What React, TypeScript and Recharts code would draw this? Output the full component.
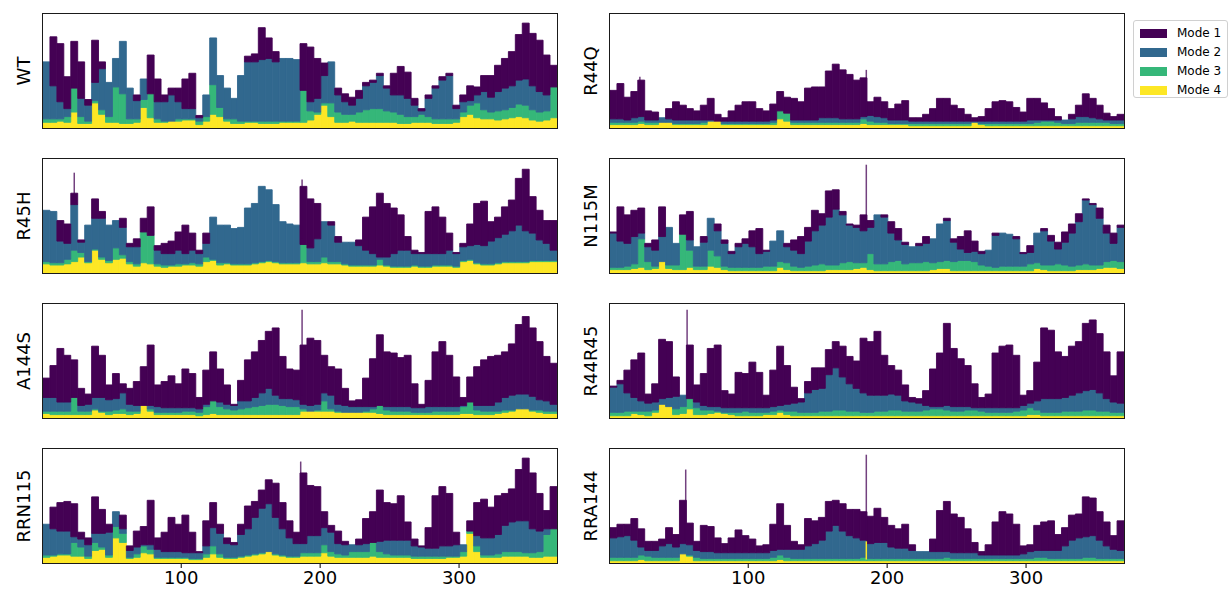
import { BarChart, Bar, XAxis, YAxis, ReferenceLine } from "recharts";

// residue bins (centre of each 5-residue block)
const residues = [
  3, 8, 13, 18, 23, 28, 33, 38, 43, 48, 53, 58, 63, 68, 73, 78, 83, 88, 93, 98,
  103, 108, 113, 118, 123, 128, 133, 138, 143, 148, 153, 158, 163, 168, 173, 178, 183, 188, 193, 198,
  203, 208, 213, 218, 223, 228, 233, 238, 243, 248, 253, 258, 263, 268, 273, 278, 283, 288, 293, 298,
  303, 308, 313, 318, 323, 328, 333, 338, 343, 348, 353, 358, 363, 368,
];
const tickValues = [100, 200, 300];
const modeNames = ["Mode 1", "Mode 2", "Mode 3", "Mode 4"];
const modeColors = ["#440154", "#31688e", "#35b779", "#fde725"];

// visible top of each mode, % of panel height
const wtMode1 = [58,80,74,45,76,58,25,77,58,40,61,76,35,29,43,64,43,29,35,35,43,48,11,29,79,46,35,26,46,63,65,88,79,67,61,61,60,74,71,61,57,58,35,30,27,33,40,42,48,37,48,54,49,26,17,29,37,45,48,20,29,37,36,46,46,55,61,67,82,92,83,77,64,55];
const wtMode2 = [58,37,23,17,32,26,20,40,52,40,61,76,35,24,43,29,23,23,29,23,17,17,9,29,79,46,35,26,46,58,58,60,61,58,61,61,60,29,23,26,46,58,29,23,20,26,37,40,46,35,29,29,26,20,15,26,35,42,46,17,23,24,29,32,27,32,35,37,42,43,37,32,29,36];
const wtMode3 = [8,8,8,10,35,10,6,24,16,10,36,30,8,8,25,30,8,6,6,8,8,8,6,10,38,18,8,8,6,6,6,6,6,6,6,6,6,33,15,14,22,22,14,12,12,14,16,17,17,15,14,12,10,10,12,10,8,8,8,8,14,20,22,16,14,15,16,18,21,20,16,14,15,36];
const wtMode4 = [5,5,6,5,14,4,4,22,12,5,5,4,4,5,18,9,5,5,6,6,7,7,3,6,12,10,6,4,4,5,5,4,4,4,5,5,5,5,7,12,20,10,5,5,6,5,5,5,5,5,5,4,4,5,5,5,4,4,4,5,10,12,9,8,8,7,8,9,10,9,7,6,7,9];

const r44qMode1 = [33,39,27,32,42,15,14,9,17,23,20,17,15,20,26,12,9,15,20,23,23,17,15,21,32,27,26,23,35,36,36,50,56,51,47,42,44,23,27,23,17,21,24,9,9,12,17,26,26,20,17,12,9,10,17,23,24,23,18,14,26,26,22,17,10,7,12,20,30,26,20,13,10,12];
const r44qMode2 = [8,8,7,9,10,7,7,9,8,7,7,7,7,7,7,6,6,6,6,6,6,6,6,7,15,13,7,7,7,7,9,9,9,8,8,8,10,11,10,9,7,7,7,6,6,6,6,6,6,6,6,6,6,6,6,6,6,6,6,6,7,7,7,7,7,7,8,10,10,9,8,7,7,7];
const r44qMode3 = [5,5,5,5,6,5,5,5,5,4,4,4,4,5,5,5,4,4,4,4,4,4,4,5,15,13,5,5,5,5,5,5,5,5,5,5,8,6,5,5,4,4,4,4,4,4,4,4,4,4,4,4,4,4,4,4,4,4,4,4,4,5,6,6,5,4,4,5,5,5,5,5,4,4];
const r44qMode4 = [3,3,3,3,4,3,3,5,5,3,3,3,3,3,6,6,3,3,3,3,3,3,3,3,8,6,3,3,3,3,3,3,3,3,3,3,4,3,3,3,3,3,3,2,2,2,2,2,2,2,2,2,5,3,2,2,2,2,2,2,2,2,2,2,2,2,2,2,2,2,2,2,2,2];

const r45hMode1 = [55,54,46,43,70,29,35,65,54,42,46,48,26,30,48,58,24,26,28,36,42,35,20,35,49,42,42,39,40,57,61,76,73,60,45,43,42,76,65,61,45,45,32,21,27,29,49,58,70,61,57,51,32,20,18,54,58,49,35,18,26,43,61,63,45,49,58,64,83,91,67,55,46,46];
const r45hMode2 = [55,54,28,26,60,27,42,48,48,42,46,40,23,23,31,26,20,17,17,20,17,20,17,26,49,42,42,39,40,57,61,76,73,60,45,43,42,20,22,30,45,42,27,27,27,24,20,17,14,14,17,20,20,17,17,17,17,17,20,17,23,24,25,24,28,31,34,37,42,37,35,29,26,20];
const r45hMode3 = [10,9,9,12,20,18,10,21,14,11,22,16,10,8,36,33,8,7,7,8,8,9,8,14,12,9,9,8,8,8,9,10,11,10,9,9,9,25,10,10,14,10,10,8,7,7,7,7,12,7,6,6,6,7,6,6,7,7,7,6,11,12,9,8,8,9,10,10,10,10,11,11,11,11];
const r45hMode4 = [8,7,7,8,10,14,9,20,12,9,12,13,8,6,9,8,6,5,6,6,7,7,6,10,11,7,8,7,7,7,8,9,10,9,8,8,8,9,8,8,9,8,8,7,6,6,6,6,7,6,5,5,5,6,5,5,6,6,6,5,10,11,8,7,7,8,9,9,9,9,10,10,10,10];

const n115mMode1 = [36,58,51,55,57,26,29,58,40,24,51,54,23,32,48,43,29,19,26,30,37,39,20,26,37,26,29,32,40,55,52,72,73,54,43,42,51,46,49,51,45,39,27,23,26,32,30,43,48,30,32,37,28,19,20,35,35,34,32,18,24,35,39,33,27,36,43,52,65,61,57,42,35,42];
const n115mMode2 = [35,28,26,32,35,23,20,32,40,26,29,29,23,27,48,37,26,17,23,26,23,17,19,28,37,23,20,17,28,37,42,49,56,51,42,40,37,40,51,49,35,29,25,23,24,26,30,43,46,27,21,18,19,17,20,33,35,34,30,17,18,35,37,28,21,27,35,45,64,60,48,35,26,40];
const n115mMode3 = [5,5,6,8,30,10,6,8,7,7,34,20,6,6,20,15,6,5,5,5,5,5,6,6,10,9,6,5,6,7,8,7,7,9,10,9,9,17,8,8,10,11,8,9,9,10,9,10,11,10,11,11,10,7,6,5,6,6,6,6,8,9,7,7,8,7,6,7,8,7,7,10,11,10];
const n115mMode4 = [3,3,3,4,5,3,4,10,4,3,3,5,3,3,6,5,3,2,2,2,2,2,2,2,5,3,2,2,2,2,2,3,3,3,3,4,5,3,2,2,2,2,2,2,2,2,3,4,4,2,2,2,2,2,2,2,2,2,2,2,2,4,3,2,2,2,2,3,3,3,4,5,5,4];

const a144sMode1 = [35,46,61,55,51,26,21,63,55,29,39,30,26,32,45,64,29,32,37,30,43,39,18,42,58,43,29,12,33,51,58,68,76,79,54,43,42,64,70,68,55,45,43,26,15,16,35,52,73,58,57,53,55,30,12,33,58,67,55,36,18,36,45,51,54,55,58,65,82,89,79,67,54,48];
const a144sMode2 = [18,18,14,14,12,11,12,18,18,16,17,22,12,11,11,11,10,9,9,9,9,9,8,12,14,14,12,11,15,15,18,22,26,20,17,17,16,12,11,12,22,20,12,11,10,10,10,10,10,10,10,10,10,9,9,10,10,10,10,10,11,11,11,11,11,14,18,20,21,21,19,16,15,12];
const a144sMode3 = [6,6,6,6,18,6,6,8,6,6,7,8,6,6,10,8,5,5,5,5,6,6,5,10,15,10,8,7,8,9,10,11,12,12,11,10,10,8,6,7,15,8,6,5,5,5,6,8,11,7,6,6,6,5,5,5,6,6,6,6,10,14,7,6,6,6,7,7,8,8,7,7,6,6];
const a144sMode4 = [4,3,3,3,3,3,3,7,5,3,4,4,3,4,11,6,3,3,3,3,3,3,2,3,4,3,3,3,3,3,3,3,3,3,3,3,3,6,6,6,6,6,5,5,5,5,5,5,4,3,3,3,3,3,3,3,3,3,3,3,4,4,3,3,3,4,5,6,8,8,6,5,4,4];

const r44r45Mode1 = [28,33,42,51,57,21,30,69,67,36,20,64,29,39,61,64,24,21,40,39,49,40,20,42,63,46,27,17,32,44,44,60,67,63,54,50,70,67,76,55,46,42,29,18,17,24,43,57,83,61,52,46,30,18,21,57,63,64,55,20,24,49,79,77,58,54,63,67,83,86,74,58,37,58];
const r44r45Mode2 = [27,30,22,18,15,13,14,17,18,19,20,16,14,11,10,10,9,9,9,9,9,9,9,10,11,12,13,14,22,25,26,38,44,36,30,26,22,20,20,20,21,20,15,14,13,11,10,10,11,10,10,10,9,9,9,9,9,9,9,11,13,15,17,17,17,18,20,22,24,25,22,17,14,13];
const r44r45Mode3 = [5,5,6,6,6,6,7,8,8,8,10,17,9,7,7,6,5,5,5,6,5,5,5,6,7,6,6,5,5,5,6,6,7,7,6,6,5,5,6,6,7,7,6,6,6,7,8,8,7,6,6,7,7,6,5,5,5,5,6,7,9,7,5,5,5,6,6,6,7,7,6,6,5,5];
const r44r45Mode4 = [2,2,2,4,3,2,5,12,10,3,4,8,3,3,4,5,4,3,2,2,2,2,3,3,5,3,2,2,2,2,2,2,2,2,2,2,2,2,2,2,2,2,2,2,2,2,2,2,2,2,2,2,2,2,2,2,2,2,2,2,3,3,2,2,2,2,2,2,2,2,2,2,2,2];

const rrn115Mode1 = [34,49,53,54,52,27,22,58,47,34,45,42,15,28,32,55,22,27,40,34,42,27,10,37,53,34,22,18,34,50,54,64,73,70,53,37,27,79,68,67,45,33,28,19,16,21,39,45,64,53,52,59,36,21,15,31,59,67,61,27,15,37,53,56,49,59,61,65,82,92,79,61,46,67];
const rrn115Mode2 = [34,30,28,28,23,21,16,26,26,27,45,30,11,14,16,16,12,10,10,10,9,9,9,15,31,26,17,16,25,30,40,48,52,40,30,22,17,17,24,24,31,27,17,16,16,16,17,18,19,20,20,20,20,15,14,13,13,15,15,16,16,28,24,22,22,25,33,36,37,37,30,28,30,30];
const rrn115Mode3 = [7,7,8,8,18,14,6,18,14,7,32,26,5,8,15,12,5,5,5,5,5,4,4,8,15,8,5,5,6,7,8,9,10,8,7,6,6,9,9,9,16,10,8,7,10,10,10,18,10,8,7,7,7,6,6,6,6,6,6,6,10,28,15,7,7,8,10,10,10,9,9,10,25,30];
const rrn115Mode4 = [5,6,7,7,6,6,4,11,12,5,22,18,4,5,9,8,4,4,4,4,4,3,3,5,8,5,4,4,5,6,7,8,10,7,6,5,5,6,6,6,9,6,5,5,5,5,5,6,5,5,5,5,5,4,4,4,4,4,5,5,6,26,10,5,5,5,6,6,6,6,5,5,6,6];

const rra144Mode1 = [31,34,34,39,30,19,19,21,31,25,55,35,19,33,32,22,17,22,29,24,21,15,16,34,52,33,19,16,39,37,40,54,55,52,47,47,45,41,48,40,33,30,34,16,10,10,21,46,54,43,40,30,18,10,16,36,45,43,34,15,16,33,36,37,25,31,42,43,58,57,45,36,24,37];
const rra144Mode2 = [22,23,24,20,14,11,11,15,17,14,17,16,11,10,10,9,9,9,9,9,9,9,9,11,12,12,12,12,15,17,20,28,33,28,24,22,20,17,18,18,14,13,13,11,10,10,10,10,10,9,9,9,9,7,7,7,7,7,7,8,10,11,11,11,11,15,20,22,23,24,20,15,12,11];
const rra144Mode3 = [5,5,5,5,7,6,5,5,5,5,8,7,5,4,4,4,4,4,4,4,4,4,4,5,7,5,4,4,4,4,4,4,4,4,4,4,5,4,4,4,4,4,4,4,4,4,4,4,5,4,4,4,4,4,4,4,4,4,4,4,4,5,5,4,4,4,4,4,5,5,4,4,4,4];
const rra144Mode4 = [2,2,2,2,3,2,2,2,2,2,8,6,2,2,2,2,2,2,2,2,2,2,2,2,3,2,2,2,2,2,2,2,2,2,2,2,2,2,2,2,2,2,2,2,2,2,2,2,2,2,2,2,2,2,2,2,2,2,2,2,2,2,2,2,2,2,2,2,2,2,2,2,2,2];

// single-residue spikes: residue, bottom, top (% of panel), mode index
const r44qSpikes = [{ residue: 22, from: 10, to: 45, mode: 0 }, { residue: 185, from: 10, to: 51, mode: 0 }];
const r45hSpikes = [{ residue: 23, from: 60, to: 88, mode: 0 }, { residue: 187, from: 30, to: 82, mode: 0 }];
const n115mSpikes = [{ residue: 185, from: 40, to: 95, mode: 0 }];
const a144sSpikes = [{ residue: 187, from: 20, to: 95, mode: 0 }];
const r44r45Spikes = [{ residue: 56, from: 20, to: 95, mode: 0 }];
const rrn115Spikes = [{ residue: 186, from: 30, to: 89, mode: 0 }];
const rra144Spikes = [
  { residue: 55, from: 20, to: 82, mode: 0 },
  { residue: 185, from: 20, to: 95, mode: 0 },
  { residue: 185, from: 3, to: 19, mode: 3 },
];

const FONT = "'DejaVu Sans', sans-serif";
const PANEL_W = 514;
const PANEL_H = 114;
const AXIS_H = 34;
const X_DOMAIN: [number, number] = [0.5, 370.5];
const BAR_PX = (PANEL_W * 5) / (X_DOMAIN[1] - X_DOMAIN[0]) - 0.04;

const panels = [
  { name: "WT", col: 0, row: 0, modes: [wtMode1, wtMode2, wtMode3, wtMode4], spikes: [] },
  { name: "R45H", col: 0, row: 1, modes: [r45hMode1, r45hMode2, r45hMode3, r45hMode4], spikes: r45hSpikes },
  { name: "A144S", col: 0, row: 2, modes: [a144sMode1, a144sMode2, a144sMode3, a144sMode4], spikes: a144sSpikes },
  { name: "RRN115", col: 0, row: 3, modes: [rrn115Mode1, rrn115Mode2, rrn115Mode3, rrn115Mode4], spikes: rrn115Spikes },
  { name: "R44Q", col: 1, row: 0, modes: [r44qMode1, r44qMode2, r44qMode3, r44qMode4], spikes: r44qSpikes },
  { name: "N115M", col: 1, row: 1, modes: [n115mMode1, n115mMode2, n115mMode3, n115mMode4], spikes: n115mSpikes },
  { name: "R44R45", col: 1, row: 2, modes: [r44r45Mode1, r44r45Mode2, r44r45Mode3, r44r45Mode4], spikes: r44r45Spikes },
  { name: "RRA144", col: 1, row: 3, modes: [rra144Mode1, rra144Mode2, rra144Mode3, rra144Mode4], spikes: rra144Spikes },
];

const colLeft = [43, 610];
const rowTop = [14, 159, 304, 449];

// eslint-disable-next-line @typescript-eslint/no-explicit-any
const Panel = ({ panel }: any) => {
  const left = colLeft[panel.col];
  const top = rowTop[panel.row];
  const bottom = panel.row === 3;
  const h = PANEL_H + (bottom ? AXIS_H : 0);

  // turn visible tops into stacked segments
  const rows = residues.map((residue, i) => {
    const [m1, m2, m3, m4] = panel.modes.map((m: number[]) => m[i]);
    const g = Math.max(m3, m4);
    const b = Math.max(m2, g);
    const p = Math.max(m1, b);
    return { residue, s4: m4, s3: g - m4, s2: b - g, s1: p - b };
  });

  return (
    <>
      <div style={{ position: "absolute", left, top, width: PANEL_W, height: h }}>
        <BarChart
          width={PANEL_W}
          height={h}
          data={rows}
          margin={{ top: 0, right: 0, bottom: 0, left: 0 }}
          barGap={0}
          barCategoryGap={0}
        >
          <XAxis
            type="number"
            dataKey="residue"
            domain={X_DOMAIN}
            ticks={tickValues}
            allowDataOverflow
            hide={!bottom}
            height={AXIS_H}
            axisLine={false}
            tickLine={{ stroke: "#000", strokeWidth: 1 }}
            tickSize={5}
            tickMargin={3}
            tick={{ fontSize: 18, fill: "#000", fontFamily: FONT }}
          />
          <YAxis type="number" domain={[0, 100]} allowDataOverflow hide />
          {["s4", "s3", "s2", "s1"].map((key, j) => (
            <Bar
              key={key}
              dataKey={key}
              stackId="m"
              fill={modeColors[3 - j]}
              stroke={modeColors[3 - j]}
              strokeWidth={0.9}
              barSize={BAR_PX}
              isAnimationActive={false}
            />
          ))}
          {/* eslint-disable-next-line @typescript-eslint/no-explicit-any */}
          {panel.spikes.map((s: any, k: number) => (
            <ReferenceLine
              key={k}
              segment={[
                { x: s.residue, y: s.from },
                { x: s.residue, y: s.to },
              ]}
              stroke={modeColors[s.mode]}
              strokeOpacity={s.mode === 0 ? 0.75 : 1}
              strokeWidth={1.5}
              ifOverflow="visible"
            />
          ))}
        </BarChart>
      </div>
      {/* axes frame */}
      <div
        style={{
          position: "absolute",
          left: left - 0.75,
          top: top - 0.75,
          width: PANEL_W + 1.5,
          height: PANEL_H + 1.5,
          border: "1.5px solid #1a1a1a",
          boxSizing: "border-box",
          pointerEvents: "none",
        }}
      />
      {/* variant label */}
      <div
        style={{
          position: "absolute",
          left: left - 19,
          top: top + PANEL_H / 2,
          transform: "translate(-50%, -50%) rotate(-90deg)",
          fontSize: 18,
          fontFamily: FONT,
          color: "#000",
          whiteSpace: "nowrap",
          lineHeight: "20px",
        }}
      >
        {panel.name}
      </div>
    </>
  );
};

const Legend = () => (
  <div
    style={{
      position: "absolute",
      left: 1133,
      top: 20,
      width: 95,
      height: 78,
      border: "1px solid #d0d0d0",
      borderRadius: 3,
      boxSizing: "border-box",
      background: "#fff",
      fontFamily: FONT,
      fontSize: 12,
    }}
  >
    {modeNames.map((name, i) => (
      <div
        key={name}
        style={{ position: "absolute", left: 6, top: 7 + i * 19, height: 10, display: "flex", alignItems: "center" }}
      >
        <div style={{ width: 27, height: 9, background: modeColors[i] }} />
        <span style={{ marginLeft: 10, color: "#000", whiteSpace: "nowrap" }}>{name}</span>
      </div>
    ))}
  </div>
);

export default function App() {
  return (
    <div
      style={{
        position: "absolute",
        left: 0,
        top: 0,
        width: 1230,
        height: 599,
        background: "#fff",
        overflow: "hidden",
      }}
    >
      {panels.map((p) => (
        <Panel key={p.name} panel={p} />
      ))}
      <Legend />
    </div>
  );
}
